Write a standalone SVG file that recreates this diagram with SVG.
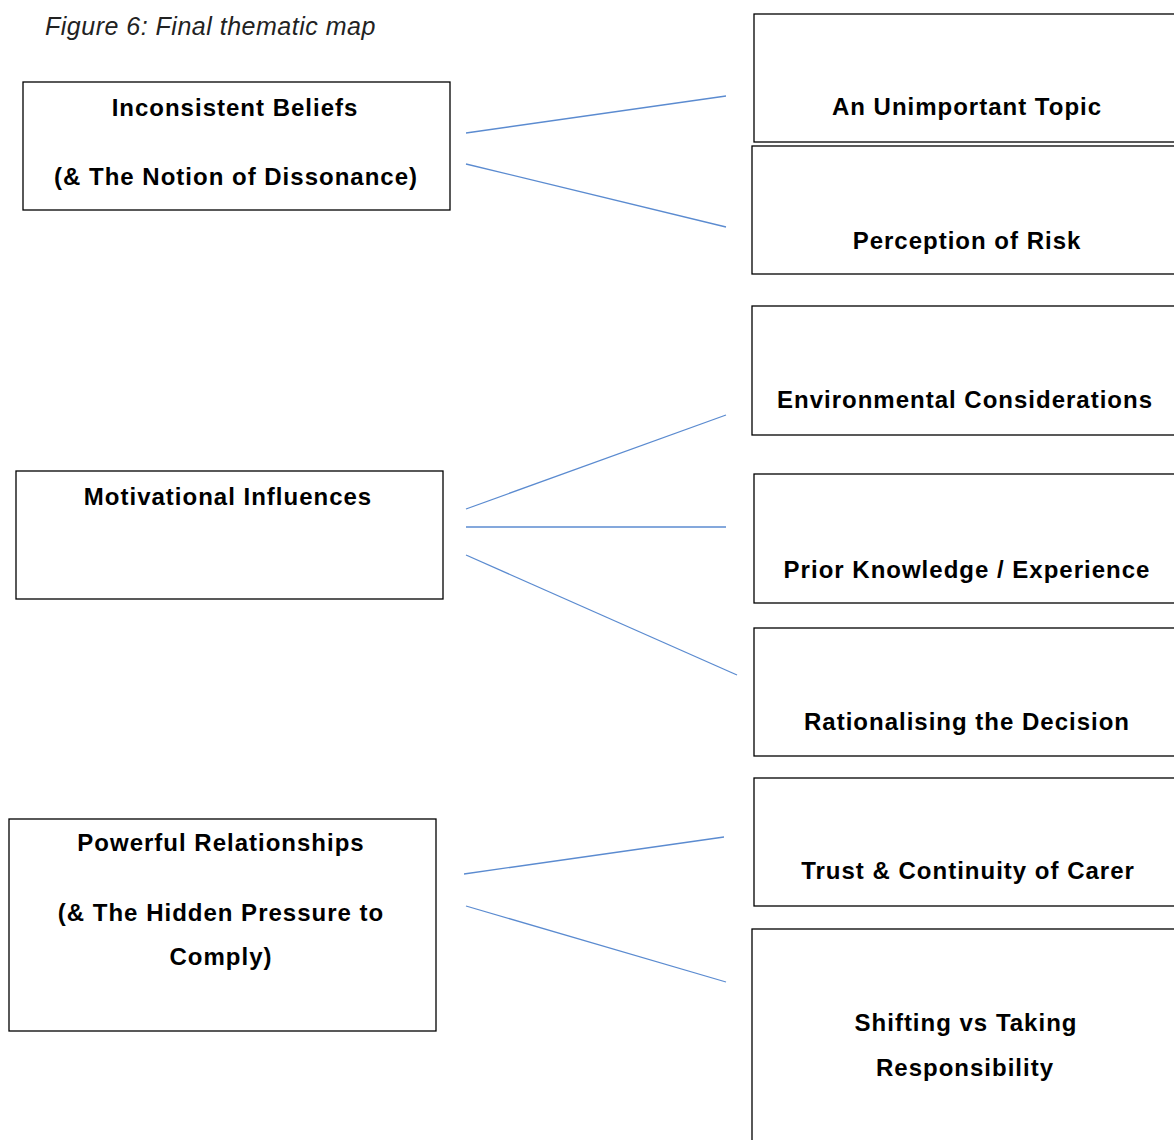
<svg xmlns="http://www.w3.org/2000/svg" width="1174" height="1140" viewBox="0 0 1174 1140">
<style>
.box{fill:#fff;stroke:#000;stroke-width:1.3}
.t{font-family:"Liberation Sans",Arial,sans-serif;font-weight:bold;font-size:24px;letter-spacing:1px;fill:#000;text-anchor:middle}
.c{stroke:#5b8bd0;stroke-width:1.3;fill:none}
</style>
<rect width="1174" height="1140" fill="#fff"/>
<text x="45" y="35" font-family="'Liberation Sans',Arial,sans-serif" font-style="italic" font-size="25" letter-spacing="0.5" fill="#222">Figure 6: Final thematic map</text>
<g id="connectors">
<line class="c" x1="466" y1="133" x2="726" y2="96"/>
<line class="c" x1="466" y1="164" x2="726" y2="227"/>
<line class="c" x1="466" y1="509" x2="726" y2="415"/>
<line class="c" x1="466" y1="527" x2="726" y2="527"/>
<line class="c" x1="466" y1="555" x2="737" y2="675"/>
<line class="c" x1="464" y1="874" x2="724" y2="837"/>
<line class="c" x1="466" y1="906" x2="726" y2="982"/>
</g>
<g id="n-inconsistent"><rect class="box" x="23" y="82" width="427" height="128"/><text class="t" x="235" y="116">Inconsistent Beliefs</text><text class="t" x="236" y="185">(&amp; The Notion of Dissonance)</text></g>
<g id="n-motivational"><rect class="box" x="16" y="471" width="427" height="128"/><text class="t" x="228" y="505">Motivational Influences</text></g>
<g id="n-powerful"><rect class="box" x="9" y="819" width="427" height="212"/><text class="t" x="221" y="851">Powerful Relationships</text><text class="t" x="221" y="921">(&amp; The Hidden Pressure to</text><text class="t" x="221" y="965">Comply)</text></g>
<g id="n-unimportant"><rect class="box" x="754" y="14" width="430" height="128"/><text class="t" x="967" y="115">An Unimportant Topic</text></g>
<g id="n-risk"><rect class="box" x="752" y="146" width="430" height="128"/><text class="t" x="967" y="249">Perception of Risk</text></g>
<g id="n-environmental"><rect class="box" x="752" y="306" width="430" height="129"/><text class="t" x="965" y="408">Environmental Considerations</text></g>
<g id="n-prior"><rect class="box" x="754" y="474" width="430" height="129"/><text class="t" x="967" y="578">Prior Knowledge / Experience</text></g>
<g id="n-rationalising"><rect class="box" x="754" y="628" width="430" height="128"/><text class="t" x="967" y="730">Rationalising the Decision</text></g>
<g id="n-trust"><rect class="box" x="754" y="778" width="430" height="128"/><text class="t" x="968" y="879">Trust &amp; Continuity of Carer</text></g>
<g id="n-shifting"><rect class="box" x="752" y="929" width="430" height="230"/><text class="t" x="966" y="1031">Shifting vs Taking</text><text class="t" x="965" y="1076">Responsibility</text></g>
</svg>
